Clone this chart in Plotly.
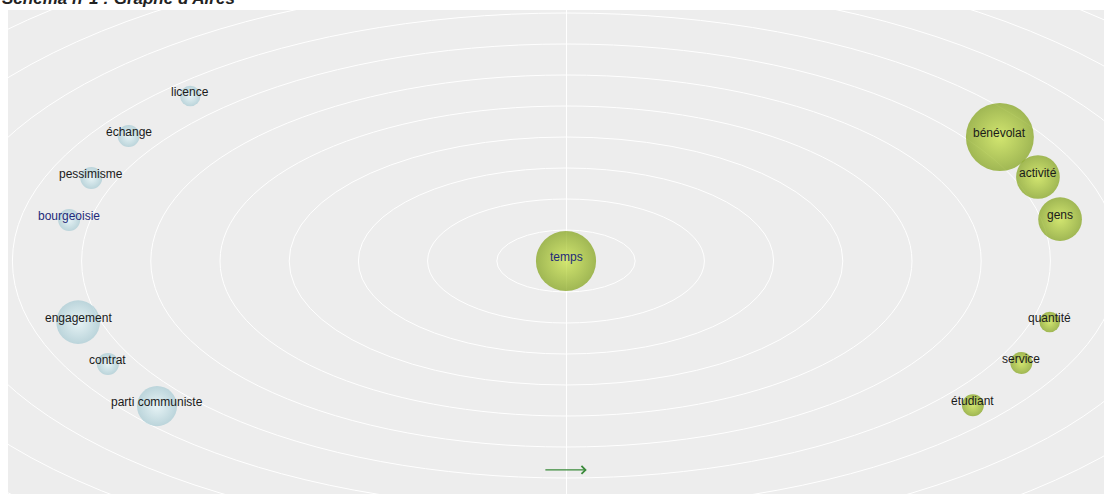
import plotly.graph_objects as go

# ---- data (map coordinates: one unit = one ring spacing) ----
left_words = ["licence", "échange", "pessimisme", "bourgeoisie", "engagement", "contrat", "parti communiste"]
left_x = [-5.43, -6.32, -6.86, -7.18, -7.05, -6.62, -5.91]
left_y = [5.32, 4.03, 2.68, 1.32, -1.97, -3.32, -4.68]
left_weight = [4.2, 4.8, 4.8, 4.8, 19, 4.8, 16]

right_words = ["bénévolat", "activité", "gens", "quantité", "service", "étudiant", "temps"]
right_x = [6.27, 6.82, 7.14, 6.99, 6.58, 5.88, 0.0]
right_y = [4.0, 2.71, 1.35, -1.97, -3.29, -4.65, 0.0]
right_weight = [46, 19, 19, 4.2, 4.8, 4.8, 36]

highlighted = ["bourgeoisie", "temps"]
rings = list(range(1, 13))

title_text = "Schéma n°1 : Graphe d'Aires"

SIZEREF = 2 * 46 / 68.0 ** 2

fig = go.Figure()

fig.add_trace(go.Scatter(
    x=left_x, y=left_y, mode="markers",
    marker=dict(size=left_weight, sizemode="area", sizeref=SIZEREF,
                color="#a6cad3", gradient=dict(type="radial", color="#e4f6f9"),
                line=dict(width=0)),
    hovertext=left_words, hoverinfo="text", showlegend=False))

fig.add_trace(go.Scatter(
    x=right_x, y=right_y, mode="markers",
    marker=dict(size=right_weight, sizemode="area", sizeref=SIZEREF,
                color="#7f a012".replace(" ", ""), gradient=dict(type="radial", color="#c6e23a"),
                line=dict(width=0)),
    hovertext=right_words, hoverinfo="text", showlegend=False))

for words, xs, ys in ((left_words, left_x, left_y), (right_words, right_x, right_y)):
    for w, xv, yv in zip(words, xs, ys):
        fig.add_annotation(x=xv, y=yv, text=w, showarrow=False, yshift=4,
                           font=dict(family="Liberation Sans, Arial", size=12,
                                     color="#1f2a7a" if w in highlighted else "#1a1a1a"))

for k in rings:
    fig.add_shape(type="circle", xref="x", yref="y", x0=-k, x1=k, y0=-k, y1=k,
                  line=dict(color="white", width=1), layer="below")

# direction arrow
fig.add_annotation(x=0.30, y=-6.74, ax=-0.32, ay=-6.74, xref="x", yref="y",
                   axref="x", ayref="y", showarrow=True, arrowhead=4,
                   arrowsize=1.2, arrowwidth=1.3, arrowcolor="#3a8a3a", text="")

fig.add_annotation(xref="paper", yref="paper", x=-8 / 1096, y=1 + 0 / 484,
                   xanchor="left", yanchor="bottom", showarrow=False,
                   text="<b><i>" + title_text + "</i></b>",
                   font=dict(family="Liberation Sans, Arial", size=17, color="#222"))

fig.update_layout(
    width=1111, height=495,
    margin=dict(l=8, r=7, t=10, b=1),
    paper_bgcolor="white", plot_bgcolor="#ededed",
    xaxis=dict(range=[-558 / 69.2, 538 / 69.2], showgrid=False, showticklabels=False,
               zeroline=True, zerolinecolor="white", zerolinewidth=1, ticks=""),
    yaxis=dict(range=[-233 / 31, 251 / 31], showgrid=False, showticklabels=False,
               zeroline=False, ticks=""),
)

fig.write_html("out.html", config={"displayModeBar": False},
               post_script="document.body.style.margin='0';")
